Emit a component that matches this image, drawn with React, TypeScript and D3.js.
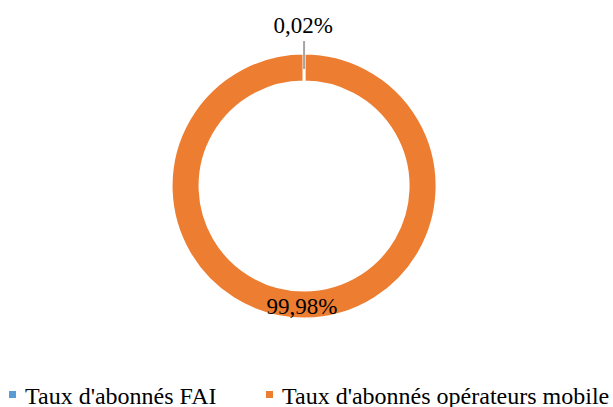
import React from 'react';
import * as d3 from 'd3';

const categories = ["Taux d'abonnés FAI", "Taux d'abonnés opérateurs mobile"];
const values = [0.02, 99.98];
const labels = ['0,02%', '99,98%'];
const colors = ['#5B9BD5', '#ED7D31'];

const FONT = "'Liberation Serif'";

export default function App() {
  const width = 613;
  const height = 407;
  const cx = 304;
  const cy = 186;
  const outer = 133;
  const inner = 104;

  const pie = d3.pie<number>().sort(null).value(d => d);
  const arcs = pie(values);
  const arc = d3.arc<d3.PieArcDatum<number>>().innerRadius(inner).outerRadius(outer);

  // leader line for the tiny slice
  const mid0 = (arcs[0].startAngle + arcs[0].endAngle) / 2;
  const p1 = [Math.sin(mid0) * (outer - 16), -Math.cos(mid0) * (outer - 16)];
  const p2 = [Math.sin(mid0) * (outer + 12), -Math.cos(mid0) * (outer + 12)];
  const mid1 = (arcs[1].startAngle + arcs[1].endAngle) / 2;
  const r1 = (inner + outer) / 2;

  const legendX = [9, 266];
  const labelStyle = { fontFamily: FONT, fontSize: '23px', fill: '#000' };
  const legendStyle = { fontFamily: FONT, fontSize: '24px', fill: '#000' };

  return (
    <svg width={width} height={height} style={{ position: 'absolute', left: 0, top: 0, display: 'block', background: '#fff' }}>
      <g transform={`translate(${cx},${cy})`}>
        {arcs.map((d, i) => (
          <path key={i} d={arc(d) || ''} fill={colors[i]} stroke="white" strokeWidth={3} />
        ))}
        <line x1={p1[0]} y1={p1[1]} x2={p2[0]} y2={p2[1]} stroke="#A5A5A5" strokeWidth={2} />
        <text x={p2[0] - 1} y={p2[1] - 8} textAnchor="middle" style={labelStyle}>{labels[0]}</text>
        <text x={Math.sin(mid1) * r1 - 2} y={-Math.cos(mid1) * r1 + 9.5} textAnchor="middle" style={labelStyle}>{labels[1]}</text>
      </g>
      {categories.map((c, i) => (
        <g key={c}>
          <rect x={legendX[i]} y={391} width={7} height={7} fill={colors[i]} />
          <text x={legendX[i] + 16} y={404} style={legendStyle}>{c}</text>
        </g>
      ))}
    </svg>
  );
}
